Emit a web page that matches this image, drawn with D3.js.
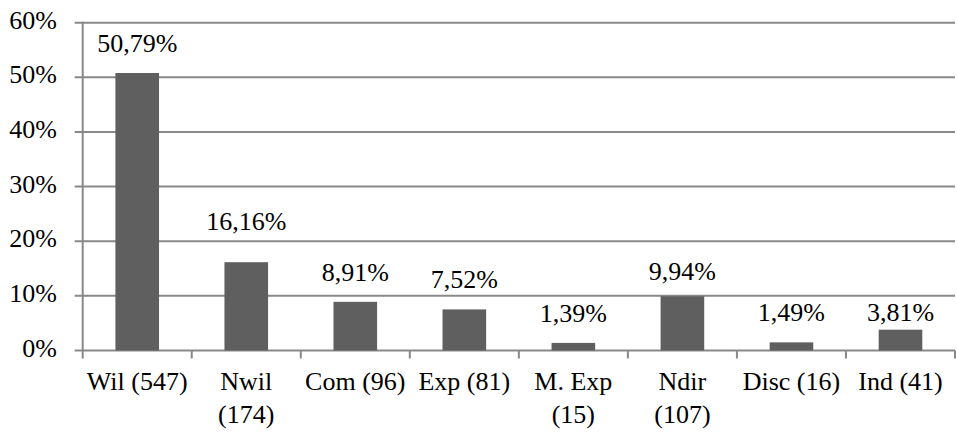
<!DOCTYPE html>
<html><head><meta charset="utf-8"><script src="https://cdn.jsdelivr.net/npm/d3@7"></script></head>
<body style="margin:0">
<svg id="s" width="957" height="432" font-family="Liberation Serif"></svg>
<script>
// ---- data ----
const categories = [
  ["Wil (547)"],
  ["Nwil", "(174)"],
  ["Com (96)"],
  ["Exp (81)"],
  ["M. Exp", "(15)"],
  ["Ndir", "(107)"],
  ["Disc (16)"],
  ["Ind (41)"]
];
const values = [50.79, 16.16, 8.91, 7.52, 1.39, 9.94, 1.49, 3.81];
const valueLabels = ["50,79%", "16,16%", "8,91%", "7,52%", "1,39%", "9,94%", "1,49%", "3,81%"];
const yTicks = [0, 10, 20, 30, 40, 50, 60];
const yTickLabels = ["0%", "10%", "20%", "30%", "40%", "50%", "60%"];

// ---- layout (not data) ----
const labelShift = [0, -11, 0, 0, 0, 5, 0, 12];
const plotLeft = 82.7, plotRight = 955, plotTop = 22.7, plotBottom = 350.5;
const gridColor = "#898989", barColor = "#5f5f5f";
const FONT = "Liberation Serif", FS = 26;

const s = d3.select("#s");

const x = d3.scaleBand()
  .domain(d3.range(categories.length))
  .range([plotLeft, plotRight])
  .paddingInner(0.6)
  .paddingOuter(0.3);
const xTicks = d3.scaleBand().domain(d3.range(categories.length)).range([plotLeft, plotRight]);
const y = d3.scaleLinear().domain([0, 60]).range([plotBottom, plotTop]);

// gridlines with left tick marks
yTicks.forEach(d => {
  s.append("line")
    .attr("x1", plotLeft - 8).attr("x2", plotRight)
    .attr("y1", y(d)).attr("y2", y(d))
    .attr("stroke", gridColor).attr("stroke-width", 2);
});

// y axis line
s.append("line")
  .attr("x1", plotLeft).attr("x2", plotLeft)
  .attr("y1", y(60) - 1).attr("y2", plotBottom + 8)
  .attr("stroke", gridColor).attr("stroke-width", 2);

// bottom ticks
d3.range(1, categories.length + 1).forEach(i => {
  const tx = plotLeft + i * xTicks.step();
  s.append("line")
    .attr("x1", tx).attr("x2", tx)
    .attr("y1", plotBottom).attr("y2", plotBottom + 8)
    .attr("stroke", gridColor).attr("stroke-width", 2);
});

// bars
values.forEach((d, i) => {
  s.append("rect")
    .attr("x", x(i))
    .attr("width", x.bandwidth())
    .attr("y", y(d))
    .attr("height", plotBottom - y(d))
    .attr("fill", barColor);
});

function addText(px, py, str, anchor) {
  const t = s.append("text").attr("x", px).attr("y", py)
    .attr("font-family", FONT).attr("font-size", FS)
    .attr("text-anchor", anchor)
    .attr("style", "font-family:'Liberation Serif';font-size:" + FS + "px")
    .text(str + " ");
  const w = t.node().getComputedTextLength();
  t.text(str).attr("data-w", w.toFixed(1));
  return t;
}

// y tick labels
yTicks.forEach((d, i) => addText(57, y(d) + 6, yTickLabels[i], "end"));

// value labels
values.forEach((d, i) => addText(x(i) + x.bandwidth() / 2, y(d) - 21 + labelShift[i], valueLabels[i], "middle"));

// category labels (one text per line)
categories.forEach((lines, i) => {
  const cx = xTicks(i) + xTicks.bandwidth() / 2;
  lines.forEach((ln, j) => addText(cx, 390 + j * 33, ln, "middle"));
});
</script></body></html>
